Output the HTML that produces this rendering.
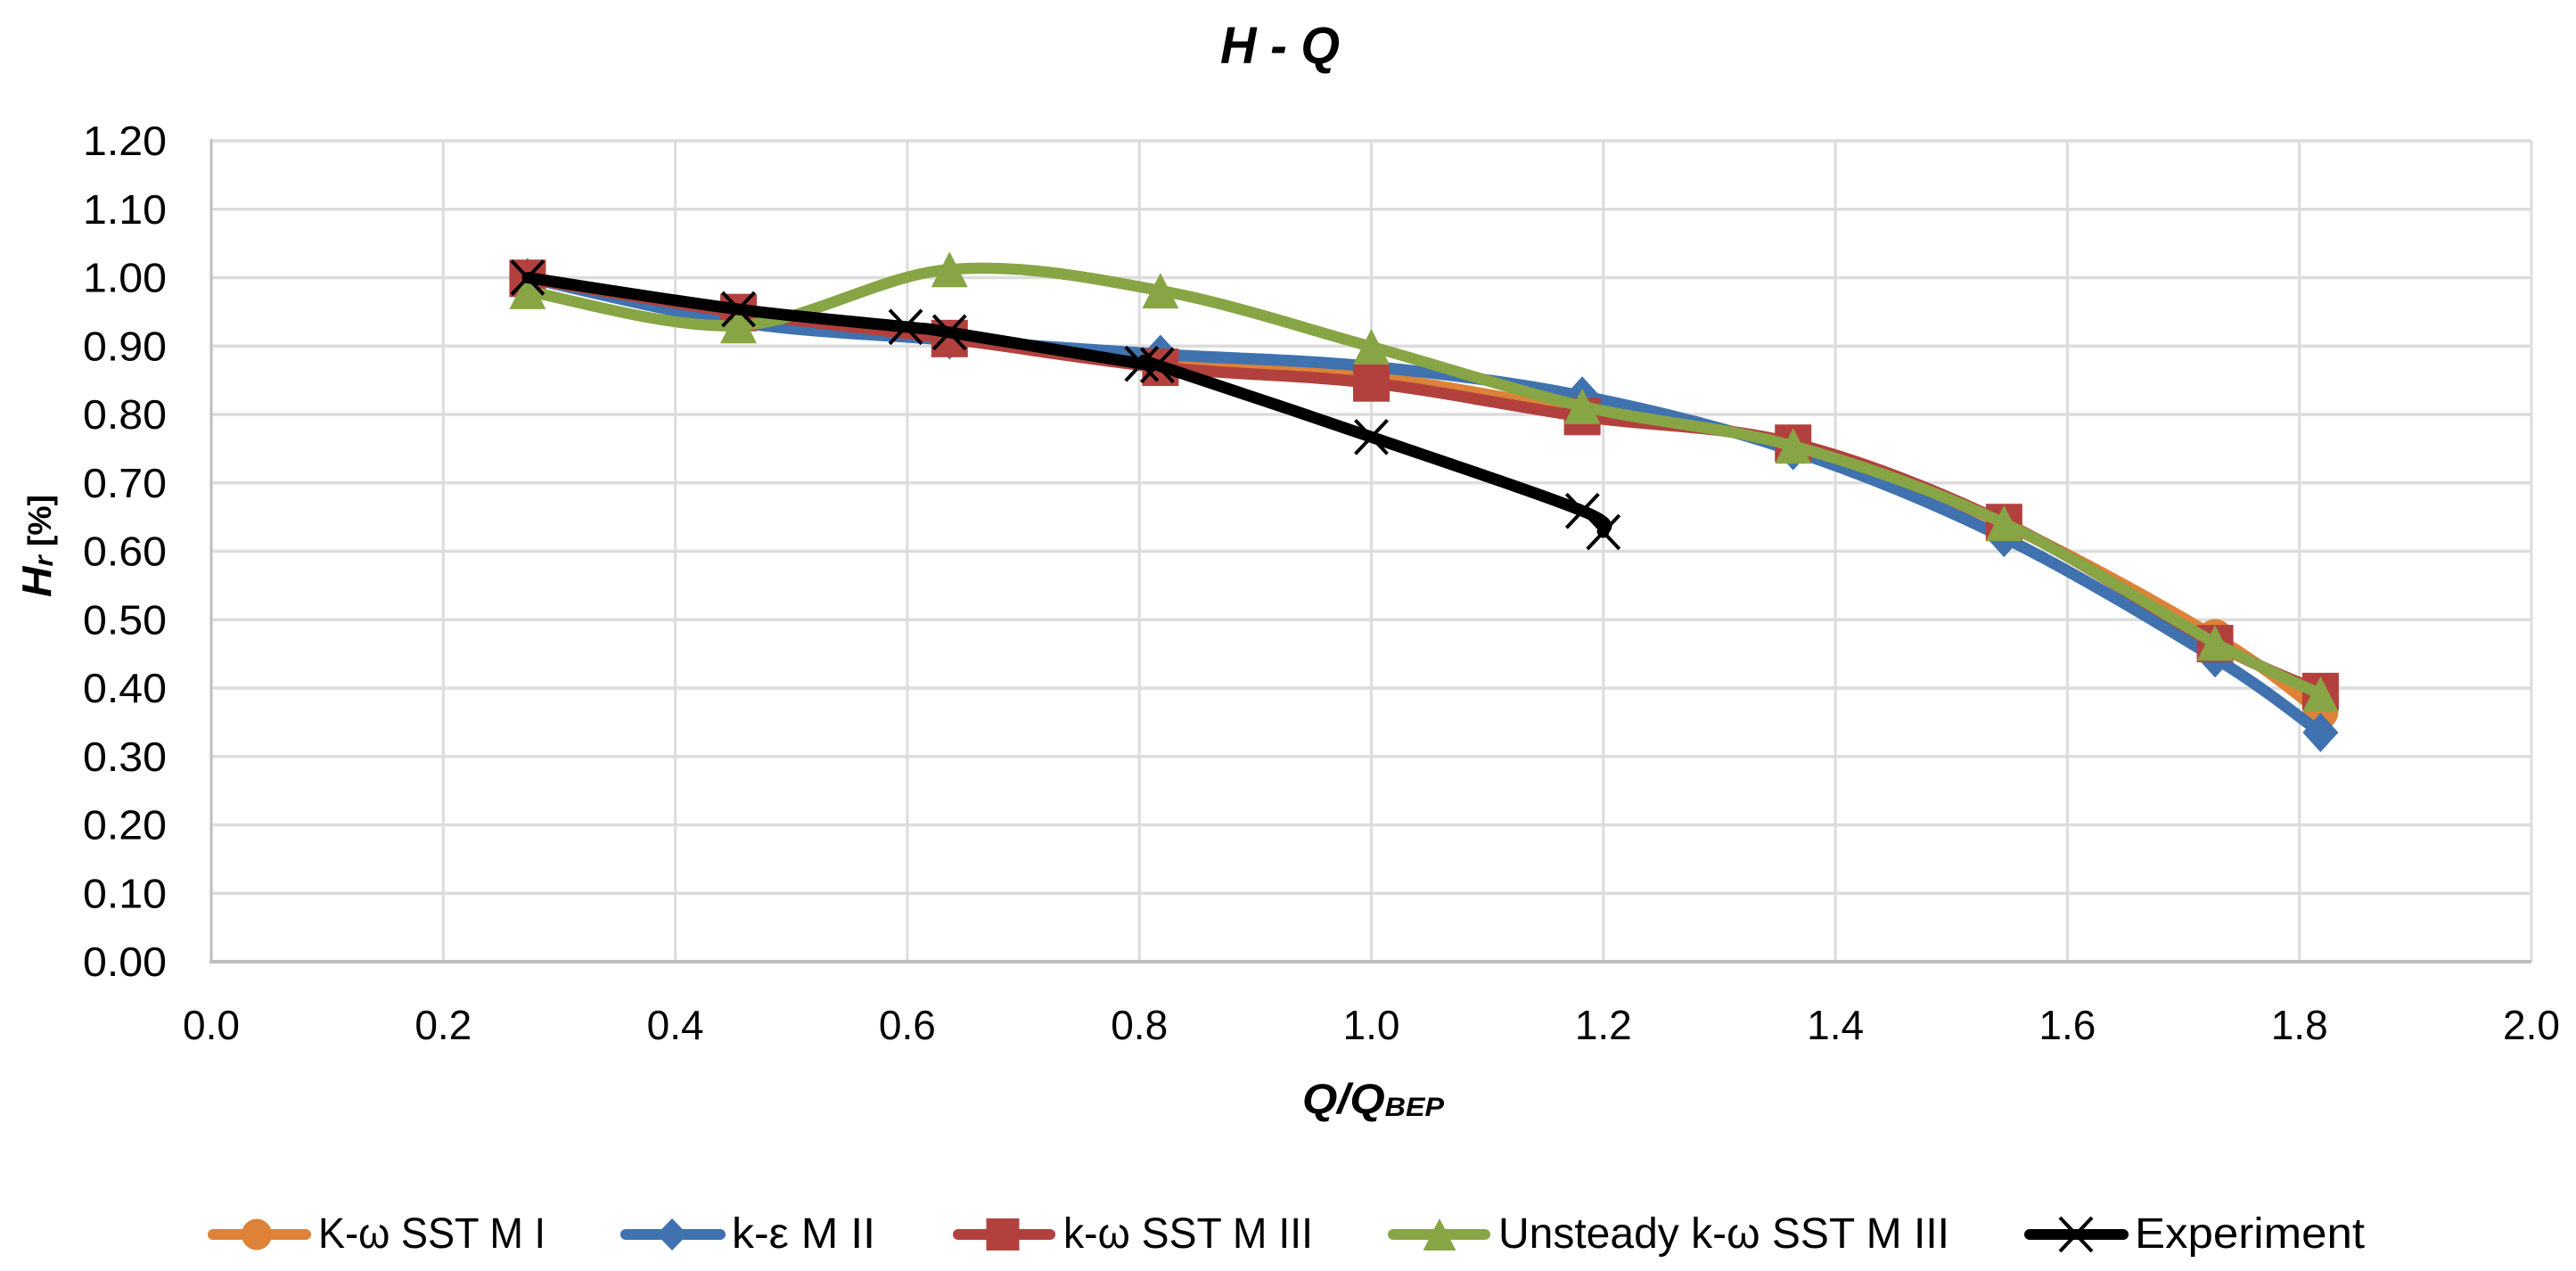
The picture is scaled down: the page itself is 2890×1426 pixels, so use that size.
<!DOCTYPE html>
<html lang="en">
<head>
<meta charset="utf-8">
<title>H - Q chart</title>
<style>
html,body{margin:0;padding:0;background:#fff;}
svg{display:block;font-family:"Liberation Sans",sans-serif;}
</style>
</head>
<body>
<svg id="chart" width="2890" height="1426" viewBox="0 0 2890 1426" xmlns="http://www.w3.org/2000/svg">
  <rect width="2890" height="1426" fill="#fff"/>
  <g id="grid"></g>
  <g id="axes"></g>
  <g id="series"></g>
  <g id="ticks"></g>
  <text x="1369" y="71" font-size="58" font-weight="bold" font-style="italic" textLength="134" lengthAdjust="spacingAndGlyphs" xml:space="preserve">H - Q</text>
  <text x="1461" y="1249" font-weight="bold" font-style="italic" font-size="47" textLength="159" lengthAdjust="spacingAndGlyphs">Q/Q<tspan font-size="30" dy="3">BEP</tspan></text>
  <text transform="translate(57,670) rotate(-90)" font-weight="bold" textLength="115" lengthAdjust="spacingAndGlyphs" xml:space="preserve"><tspan font-size="46" font-style="italic">H</tspan><tspan font-size="30" font-style="italic" dy="2">r</tspan><tspan font-size="36" dy="-2"> [%]</tspan></text>
  <g id="legend"></g>
</svg>
<script>
// Chart data
const xTickLabels = ["0.0","0.2","0.4","0.6","0.8","1.0","1.2","1.4","1.6","1.8","2.0"];
const yTickLabels = ["0.00","0.10","0.20","0.30","0.40","0.50","0.60","0.70","0.80","0.90","1.00","1.10","1.20"];

const cfdFlow = [0.2727,0.4545,0.6364,0.8182,1.0,1.1818,1.3636,1.5454,1.7273,1.8182];
const kwSstMI = [1.0,0.945,0.91,0.875,0.855,0.805,0.755,0.64,0.475,0.365];
const keMII = [1.0,0.935,0.909,0.888,0.87,0.827,0.747,0.62,0.444,0.335];
const kwSstMIII = [0.999,0.949,0.911,0.869,0.846,0.797,0.758,0.642,0.465,0.395];
const unsteadyKwSstMIII = [0.98,0.93,1.012,0.981,0.899,0.812,0.754,0.641,0.466,0.391];
const experimentFlow = [0.2727,0.4545,0.5986,0.6364,0.802,0.8155,1.0,1.182,1.2];
const experimentHead = [1.0,0.9537,0.928,0.92,0.874,0.872,0.767,0.659,0.628];

const seriesNames = ["K-ω SST M I","k-ε M II","k-ω SST M III","Unsteady k-ω SST M III","Experiment"];

// Axis functions
const plotLeft = 237, plotRight = 2840, plotTop = 158, plotBottom = 1079;
const xMax = 2.0, yMax = 1.2;
function xAxis(v){ return plotLeft + (v / xMax) * (plotRight - plotLeft); }
function yAxis(v){ return plotBottom - (v / yMax) * (plotBottom - plotTop); }

const NS = "http://www.w3.org/2000/svg";
function make(tag, attrs, parent){
  const el = document.createElementNS(NS, tag);
  for (const k in attrs) el.setAttribute(k, attrs[k]);
  parent.appendChild(el);
  return el;
}

const gridG = document.getElementById("grid");
const axesG = document.getElementById("axes");
const seriesG = document.getElementById("series");
const ticksG = document.getElementById("ticks");
const legendG = document.getElementById("legend");

// Gridlines and tick labels
yTickLabels.forEach(function(label){
  const v = parseFloat(label), y = yAxis(v);
  if (v > 0) {
    const line = make("line", {x1:plotLeft, x2:plotRight, y1:y, y2:y, stroke:"#dcdcdc", "stroke-width":3.5}, gridG);
    
    
  }
  const t = make("text", {x:187, y:y+16, "font-size":46, "text-anchor":"end", fill:"#000", textLength:94, lengthAdjust:"spacingAndGlyphs"}, ticksG);
  t.textContent = label;
  
  
});
xTickLabels.forEach(function(label){
  const v = parseFloat(label), x = xAxis(v);
  if (v > 0) {
    const line = make("line", {x1:x, x2:x, y1:plotTop, y2:plotBottom, stroke:"#dcdcdc", "stroke-width":3}, gridG);
    
    
  }
  const t = make("text", {x:x, y:1166, "font-size":46, "text-anchor":"middle", fill:"#000"}, ticksG);
  t.textContent = label;
  
  
});

// Axis lines
const yAxisLine = make("line", {x1:plotLeft, x2:plotLeft, y1:plotTop-2, y2:plotBottom+2, stroke:"#bfbfbf", "stroke-width":3}, axesG);


const xAxisLine = make("line", {x1:plotLeft-2, x2:plotRight, y1:plotBottom, y2:plotBottom, stroke:"#bfbfbf", "stroke-width":4}, axesG);



// Smooth line through data points
function smoothPath(pts){
  let d = "M" + pts[0][0] + " " + pts[0][1];
  for (let i = 0; i < pts.length - 1; i++) {
    const p0 = pts[Math.max(0, i-1)], p1 = pts[i], p2 = pts[i+1], p3 = pts[Math.min(pts.length-1, i+2)];
    const c1x = p1[0] + (p2[0]-p0[0]) / 6, c1y = p1[1] + (p2[1]-p0[1]) / 6;
    const c2x = p2[0] - (p3[0]-p1[0]) / 6, c2y = p2[1] - (p3[1]-p1[1]) / 6;
    d += "C" + c1x + " " + c1y + " " + c2x + " " + c2y + " " + p2[0] + " " + p2[1];
  }
  return d;
}

// Markers
function drawMarker(kind, cx, cy, color, parent, w, h){
  let el;
  if (kind === "circle") {
    el = make("ellipse", {cx:cx, cy:cy, rx:w/2, ry:h/2, fill:color}, parent);
  } else if (kind === "diamond") {
    el = make("polygon", {points:[[cx,cy-h/2],[cx+w/2,cy],[cx,cy+h/2],[cx-w/2,cy]].join(" "), fill:color}, parent);
  } else if (kind === "square") {
    el = make("rect", {x:cx-w/2, y:cy-h/2, width:w, height:h, fill:color}, parent);
  } else if (kind === "triangle") {
    el = make("polygon", {points:[[cx,cy-h/2],[cx+w/2,cy+h/2],[cx-w/2,cy+h/2]].join(" "), fill:color}, parent);
  } else {
    el = make("path", {d:"M"+(cx-w/2)+" "+(cy-h/2)+"L"+(cx+w/2)+" "+(cy+h/2)+"M"+(cx+w/2)+" "+(cy-h/2)+"L"+(cx-w/2)+" "+(cy+h/2), stroke:color, "stroke-width":4, fill:"none"}, parent);
  }
  
  
  return el;
}

function drawSeries(xs, ys, color, kind, w, h, seriesLabel, lineWidth){
  const g = make("g", {}, seriesG);
  
  
  const pts = xs.map(function(x, i){ return [xAxis(x), yAxis(ys[i])]; });
  const line = make("path", {d:smoothPath(pts), fill:"none", stroke:color, "stroke-width":lineWidth, "stroke-linecap":"round", "stroke-linejoin":"round"}, g);
  
  
  pts.forEach(function(p){ drawMarker(kind, p[0], p[1], color, g, w, h); });
}

const orange = "#dd8238", blue = "#3f72ae", red = "#b2413e", green = "#87a544", black = "#000000";

drawSeries(cfdFlow, kwSstMI, orange, "circle", 40, 40, "k-omega-sst-m1", 13);
drawSeries(cfdFlow, keMII, blue, "diamond", 40, 44, "k-epsilon-m2", 13);
drawSeries(cfdFlow, kwSstMIII, red, "square", 41, 42, "k-omega-sst-m3", 13);
drawSeries(cfdFlow, unsteadyKwSstMIII, green, "triangle", 41, 40, "unsteady-k-omega-sst-m3", 12.5);
drawSeries(experimentFlow, experimentHead, black, "x", 36, 38, "experiment", 13);

// Legend
const legendStyles = [
  {c:orange, k:"circle", x1:233, x2:349, m:288, t:357, tw:255, w:34, h:35},
  {c:blue, k:"diamond", x1:696, x2:814, m:754, t:821, tw:161, w:35, h:36},
  {c:red, k:"square", x1:1069, x2:1184, m:1125, t:1193, tw:280, w:37, h:36},
  {c:green, k:"triangle", x1:1557, x2:1672, m:1615, t:1681, tw:506, w:37, h:36},
  {c:black, k:"x", x1:2271, x2:2388, m:2329, t:2395, tw:258, w:36, h:38}
];
seriesNames.forEach(function(name, i){
  const s = legendStyles[i];
  const g = make("g", {}, legendG);
  
  
  const line = make("line", {x1:s.x1+6, x2:s.x2-6, y1:1385, y2:1385, stroke:s.c, "stroke-width":12, "stroke-linecap":"round"}, g);
  
  
  drawMarker(s.k, s.m, 1385, s.c, g, s.w, s.h);
  const t = make("text", {x:s.t, y:1400, "font-size":48, fill:"#000", textLength:s.tw, lengthAdjust:"spacingAndGlyphs"}, g);
  t.textContent = name;
  
  
});
</script>
</body>
</html>
